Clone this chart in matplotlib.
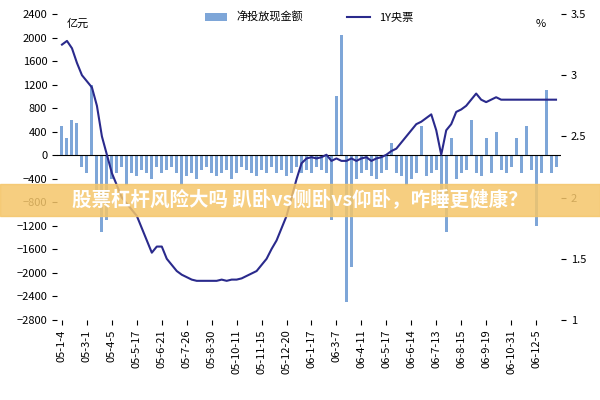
import matplotlib
matplotlib.use("Agg")
import matplotlib.pyplot as plt
import numpy as np

plt.rcParams['font.family'] = ['Noto Sans CJK SC', 'DejaVu Sans']

tick_labels = ["05-1-4", "05-3-1", "05-4-5", "05-5-17", "05-6-21", "05-7-26", "05-8-30",
               "05-10-11", "05-11-15", "05-12-20", "06-1-17", "06-3-7", "06-4-11", "06-5-17",
               "06-6-14", "06-7-13", "06-8-15", "06-9-19", "06-10-31", "06-12-5"]

net_cash = [500, 300, 600, 550, -200, -300, 1200, -600, -1300, -1100,
            -400, -300, -200, -500, -300, -350, -250, -300, -400, -200,
            -300, -250, -200, -300, -500, -350, -300, -400, -250, -200,
            -300, -350, -300, -250, -400, -300, -200, -250, -300, -350,
            -250, -300, -200, -300, -250, -350, -300, -200, -300, -250,
            -300, -200, -250, -300, -1100, 1000, 2050, -2500, -1900, -400,
            -300, -250, -350, -400, -300, -250, 200, -300, -350, -500,
            -400, -300, 500, -350, -300, -250, -800, -1300, 300, -400,
            -300, -250, 600, -300, -350, 300, -300, 400, -250, -300,
            -200, 300, -300, 500, -250, -1200, -300, 1100, -300, -200]

cb_1y = [3.25, 3.28, 3.22, 3.1, 3.0, 2.95, 2.9, 2.75, 2.5, 2.35,
         2.2, 2.1, 2.0, 1.95, 1.9, 1.85, 1.75, 1.65, 1.55, 1.6,
         1.6, 1.5, 1.45, 1.4, 1.37, 1.35, 1.33, 1.32, 1.32, 1.32,
         1.32, 1.32, 1.33, 1.32, 1.33, 1.33, 1.34, 1.36, 1.38, 1.4,
         1.45, 1.5, 1.58, 1.65, 1.75, 1.85, 2.0, 2.15, 2.28, 2.32,
         2.33, 2.32, 2.33, 2.35, 2.3, 2.32, 2.3, 2.3, 2.32, 2.3,
         2.32, 2.33, 2.3, 2.32, 2.33, 2.35, 2.38, 2.4, 2.45, 2.5,
         2.55, 2.6, 2.62, 2.65, 2.68, 2.55, 2.35, 2.55, 2.6, 2.7,
         2.72, 2.75, 2.8, 2.85, 2.8, 2.78, 2.8, 2.82, 2.8, 2.8,
         2.8, 2.8, 2.8, 2.8, 2.8, 2.8, 2.8, 2.8, 2.8, 2.8]

x = np.arange(len(net_cash))

fig, ax = plt.subplots(figsize=(6, 4), dpi=100)
fig.subplots_adjust(left=0.095, right=0.935, top=0.965, bottom=0.2)
ax.bar(x, net_cash, width=0.6, color="#7ea6d8", label="净投放现金额")
ax.set_ylim(-2800, 2400)
ax.set_yticks(np.arange(-2800, 2401, 400))
ax.set_xlim(-1, len(x))
ax.set_xticks(np.arange(0, len(x), 5))
ax.set_xticklabels(tick_labels, rotation=90, fontsize=7)
ax.tick_params(labelsize=8)
ax.axhline(0, color="black", lw=0.8)
ax.text(0.02, 0.985, "亿元", transform=ax.transAxes, fontsize=8, va="top")

ax2 = ax.twinx()
ax2.plot(x, cb_1y, color="#2a2a8c", lw=1.5, label="1Y央票")
ax2.set_ylim(1, 3.5)
ax2.set_yticks([1, 1.5, 2, 2.5, 3, 3.5])
ax2.set_yticklabels(["1", "1.5", "2", "2.5", "3", "3.5"])
ax2.tick_params(labelsize=8)
ax2.text(0.97, 0.985, "%", transform=ax2.transAxes, fontsize=8, va="top", ha="right")

for a in (ax, ax2):
    for s in a.spines.values():
        s.set_visible(False)

h1, l1 = ax.get_legend_handles_labels()
h2, l2 = ax2.get_legend_handles_labels()
ax.legend(h1 + h2, l1 + l2, loc="upper center", ncol=2, frameon=False, fontsize=8,
          bbox_to_anchor=(0.5, 1.04), columnspacing=4)

# banner overlay
fig.patches.append(plt.Rectangle((0, 0.46), 1, 0.08, transform=fig.transFigure,
                                 color="#f5c66a", alpha=0.85, zorder=10))
fig.text(0.5, 0.5, "股票杠杆风险大吗 趴卧vs侧卧vs仰卧，咋睡更健康？", ha="center", va="center",
         fontsize=14, color="white", weight="bold", zorder=11)

fig.savefig("out.png")
